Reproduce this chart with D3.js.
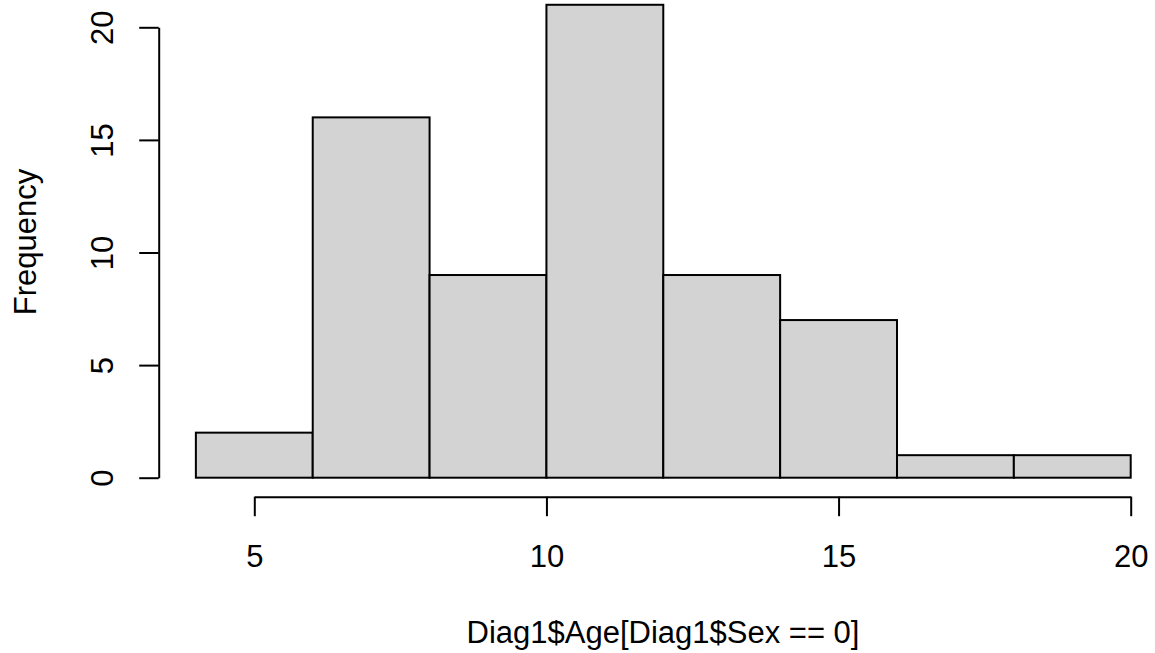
<!DOCTYPE html>
<html>
<head>
<meta charset="utf-8">
<script src="https://cdn.jsdelivr.net/npm/d3@7/dist/d3.min.js"></script>
<style>
  html, body { margin: 0; padding: 0; background: #fff; }
  svg text { font-family: "Liberation Sans", Arial, Helvetica, sans-serif; fill: #000; }
</style>
</head>
<body>
<svg id="chart" width="1155" height="653"></svg>
<script>
// histogram data: hist(Diag1$Age[Diag1$Sex == 0])
const breaks = [4, 6, 8, 10, 12, 14, 16, 18, 20];
const counts = [2, 16, 9, 21, 9, 7, 1, 1];
const xTicks = [5, 10, 15, 20];
const yTicks = [0, 5, 10, 15, 20];
const xLabel = 'Diag1$Age[Diag1$Sex == 0]';
const yLabel = 'Frequency';

const bins = counts.map((c, i) => ({ x0: breaks[i], x1: breaks[i + 1], count: c }));

const fontSize = 31;
const svg = d3.select('#chart');

const x = d3.scaleLinear().domain([5, 20]).range([254.3, 1130.7]);
const y = d3.scaleLinear().domain([0, 20]).range([477.7, 27.3]);

const axisX = 496.7;   // y position of x axis line
const axisY = 158.7;   // x position of y axis line

// bars
svg.append('g')
  .selectAll('rect')
  .data(bins)
  .enter().append('rect')
  .attr('x', d => x(d.x0))
  .attr('y', d => y(d.count))
  .attr('width', d => x(d.x1) - x(d.x0))
  .attr('height', d => y(0) - y(d.count))
  .attr('fill', '#d3d3d3')
  .attr('stroke', '#000')
  .attr('stroke-width', 2);

// x axis
const gx = svg.append('g')
  .attr('transform', `translate(0,${axisX})`)
  .call(d3.axisBottom(x).tickValues(xTicks).tickSize(19.5).tickSizeOuter(0).tickFormat(d3.format('d')));

gx.selectAll('text')
  .attr('y', 70)
  .attr('dy', null)
  .style('font-size', fontSize + 'px');

// y axis
const gy = svg.append('g')
  .attr('transform', `translate(${axisY},0)`)
  .call(d3.axisLeft(y).tickValues(yTicks).tickSize(19.5).tickSizeOuter(0).tickFormat(d3.format('d')));

gy.selectAll('text')
  .attr('x', 0)
  .attr('y', -45.7)
  .attr('dy', null)
  .attr('transform', 'rotate(-90)')
  .attr('text-anchor', 'middle')
  .style('font-size', fontSize + 'px');

[gx, gy].forEach(g => {
  g.select('.domain').attr('stroke', '#000').attr('stroke-width', 2);
  g.selectAll('.tick line').attr('stroke', '#000').attr('stroke-width', 2);
  g.attr('font-family', null).attr('font-size', null);
});

// axis titles
svg.append('text')
  .attr('x', 663)
  .attr('y', 643.3)
  .attr('text-anchor', 'middle')
  .style('font-size', fontSize + 'px')
  .text(xLabel);

svg.append('text')
  .attr('transform', 'translate(36,242) rotate(-90)')
  .attr('text-anchor', 'middle')
  .style('font-size', fontSize + 'px')
  .text(yLabel);
</script>
</body>
</html>
